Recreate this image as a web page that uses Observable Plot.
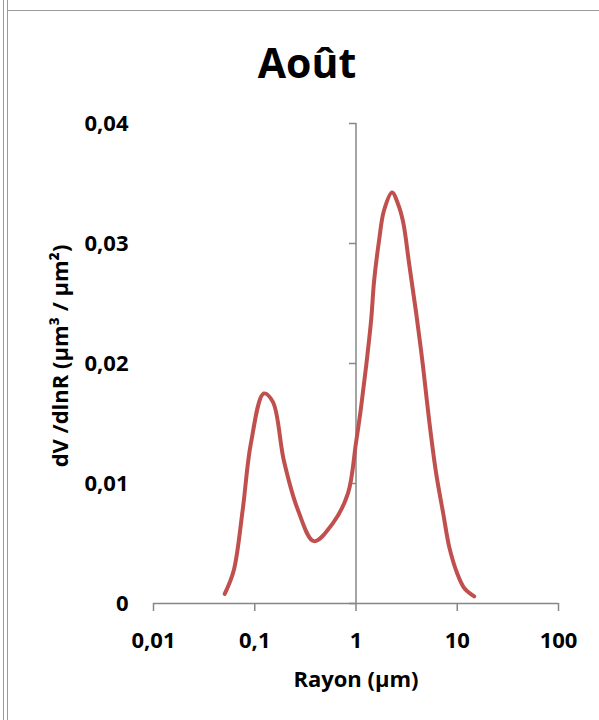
<!DOCTYPE html>
<html>
<head>
<meta charset="utf-8">
<script src="https://cdn.jsdelivr.net/npm/d3@7"></script>
<script src="https://cdn.jsdelivr.net/npm/@observablehq/plot@0.6"></script>
<style>
  body { margin: 0; background: #fff; }
  #wrap { position: relative; width: 599px; height: 720px; background: #fff; overflow: hidden;
          font-family: "Open Sans", sans-serif; font-weight: bold; color: #000; }
  .vl { position: absolute; top: 0; width: 0; height: 720px; border-left: 1.5px solid #9a9a9a; }
  .hl { position: absolute; left: 7px; top: 10px; width: 592px; height: 0; border-top: 1.5px solid #9a9a9a; }
  #title { position: absolute; left: 157px; width: 300px; top: 37px; text-align: center; font-size: 41px; line-height: 50px; }
  #xlab { position: absolute; left: 206px; width: 300px; top: 664px; text-align: center; font-size: 22px; line-height: 28px; }
  #ylab { position: absolute; left: -141px; width: 400px; top: 342px; text-align: center; font-size: 22px; line-height: 28px;
          transform: rotate(-90deg); transform-origin: 50% 50%; }
  #chart { position: absolute; left: 0; top: 0; }
</style>
</head>
<body>
<div id="wrap">
  <div class="vl" style="left:3px"></div>
  <div class="vl" style="left:7px"></div>
  <div class="hl"></div>
  <div id="chart"></div>
  <div id="title">Août</div>
  <div id="ylab">dV /dlnR (µm³ / µm²)</div>
  <div id="xlab">Rayon (µm)</div>
</div>
<script>
const radius = [0.0505, 0.062, 0.076, 0.0914, 0.1228, 0.151, 0.194, 0.267, 0.384, 0.592, 0.834, 1.0, 1.12, 1.256, 1.41, 1.51, 1.69, 1.89, 2.27, 2.6, 2.92, 3.35, 3.93, 4.6, 5.28, 6.2, 7.27, 8.34, 10.0, 11.7, 14.7];
const dvdlnr = [0.0008, 0.00275, 0.0078, 0.0133, 0.0175, 0.0168, 0.0119, 0.0078, 0.0052, 0.0067, 0.0092, 0.0134, 0.0163, 0.0197, 0.0236, 0.0269, 0.03025, 0.03275, 0.03425, 0.0333, 0.0318, 0.0283, 0.0242, 0.0197, 0.01525, 0.0108, 0.0075, 0.0047, 0.0025, 0.0013, 0.0006];
const xTicks = [0.01, 0.1, 1, 10, 100];
const xTickLabels = ["0,01", "0,1", "1", "10", "100"];
const yTicks = [0, 0.01, 0.02, 0.03, 0.04];
const yTickLabels = ["0", "0,01", "0,02", "0,03", "0,04"];

const data = radius.map((r, i) => ({r, v: dvdlnr[i]}));
const xLab = new Map(xTicks.map((t, i) => [t, xTickLabels[i]]));
const yLab = new Map(yTicks.map((t, i) => [t, yTickLabels[i]]));
const axisGray = "#868686";
const leftTick = { draw(ctx) { ctx.moveTo(-7, 0); ctx.lineTo(0, 0); } };

const plot = Plot.plot({
  width: 599, height: 720,
  marginLeft: 153, marginRight: 41, marginTop: 123, marginBottom: 117,
  x: {type: "log", domain: [0.01, 100]},
  y: {domain: [0, 0.04]},
  style: {fontFamily: "Open Sans", fontWeight: "bold", fontSize: "22px", color: "#000", background: "transparent", overflow: "visible"},
  marks: [
    Plot.ruleY([0], {stroke: axisGray, strokeWidth: 1.5}),
    Plot.ruleX([1], {stroke: axisGray, strokeWidth: 1.5}),
    Plot.axisX({ticks: xTicks, tickFormat: d => xLab.get(d), tickSize: 8, tickPadding: 21, stroke: axisGray, strokeWidth: 1.5, strokeOpacity: 1, label: null}),
    Plot.axisY({ticks: yTicks, tickFormat: d => yLab.get(d), tickSize: 0, tickPadding: 25, label: null}),
    Plot.dot(yTicks, {x: () => 1, y: d => d, symbol: leftTick, stroke: axisGray, strokeWidth: 1.5, fill: "none"}),
    Plot.line(data, {x: "r", y: "v", stroke: "#C0504D", strokeWidth: 4, curve: "catmull-rom"})
  ]
});
document.getElementById("chart").appendChild(plot);
</script>
</body>
</html>
